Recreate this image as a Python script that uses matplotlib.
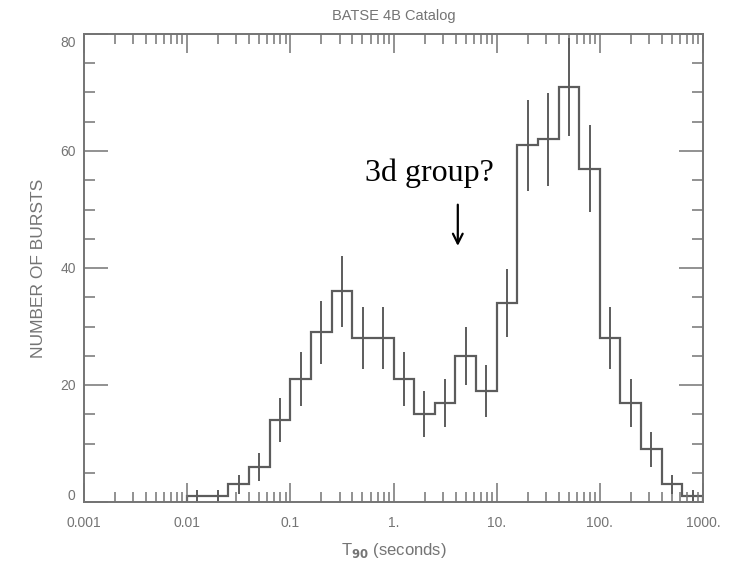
import matplotlib
matplotlib.use('Agg')
import numpy as np
import matplotlib.pyplot as plt
import matplotlib.transforms as mtrans
from matplotlib.ticker import LogLocator, MultipleLocator, NullFormatter

# ---- data ----
bin_edges_log10 = [-2.0, -1.8, -1.6, -1.4, -1.2, -1.0, -0.8, -0.6, -0.4, -0.2,
                   0.0, 0.2, 0.4, 0.6, 0.8, 1.0, 1.2, 1.4, 1.6, 1.8,
                   2.0, 2.2, 2.4, 2.6, 2.8, 3.0]
counts = [1, 1, 3, 6, 14, 21, 29, 36, 28, 28,
          21, 15, 17, 25, 19, 34, 61, 62, 71, 57,
          28, 17, 9, 3, 1]
errors = [1.0, 1.0, 1.7, 2.4, 3.7, 4.6, 5.4, 6.0, 5.3, 5.3,
          4.6, 3.9, 4.1, 5.0, 4.4, 5.8, 7.8, 7.9, 8.4, 7.5,
          5.3, 4.1, 3.0, 1.7, 1.0]
xtick_values = [0.001, 0.01, 0.1, 1, 10, 100, 1000]
xtick_labels = ['0.001', '0.01', '0.1', '1.', '10.', '100.', '1000.']
ytick_values = [0, 20, 40, 60, 80]
ytick_labels = ['0', '20', '40', '60', '80']

edges = 10.0 ** np.array(bin_edges_log10)
centers = np.sqrt(edges[:-1] * edges[1:])

gray = '#747474'
linecol = '#5c5c5c'
plt.rcParams['font.family'] = ['Liberation Sans', 'DejaVu Sans']

fig = plt.figure(figsize=(7.44, 5.65), dpi=100)
ax = fig.add_axes([84 / 744, 1 - 502 / 565, (703 - 84) / 744, (502 - 34) / 565])

ax.stairs(counts, edges, color=linecol, lw=1.6, baseline=0)
ax.errorbar(centers, counts, yerr=errors, fmt='none', ecolor=linecol,
            elinewidth=1.4, capsize=0)

ax.set_xscale('log')
ax.set_xlim(1e-3, 1e3)
ax.set_ylim(0, 80)

ax.set_xticks(xtick_values)
ax.set_xticklabels(xtick_labels)
ax.xaxis.set_minor_locator(LogLocator(base=10, subs=range(2, 10), numticks=20))
ax.xaxis.set_minor_formatter(NullFormatter())
ax.set_yticks(ytick_values)
ax.set_yticklabels(ytick_labels)
ax.yaxis.set_minor_locator(MultipleLocator(5))

for s in ax.spines.values():
    s.set_color(gray)
    s.set_linewidth(1.4)

ax.tick_params(which='both', direction='in', top=True, right=True,
               color=gray, labelcolor=gray, width=1.1, labelsize=10)
ax.tick_params(axis='x', which='major', length=14, pad=10)
ax.tick_params(axis='x', which='minor', length=7)
ax.tick_params(axis='y', which='major', length=17, pad=6)
ax.tick_params(axis='y', which='minor', length=8)

# shift end labels inward like the reference
labs = ax.get_yticklabels()
labs[0].set_transform(labs[0].get_transform() +
                      mtrans.ScaledTranslation(0, 8 / 100, fig.dpi_scale_trans))
labs[-1].set_transform(labs[-1].get_transform() +
                       mtrans.ScaledTranslation(0, -8 / 100, fig.dpi_scale_trans))

ax.set_xlabel('T$_{\\mathbf{90}}$ (seconds)', color=gray, fontsize=12, labelpad=8)
ax.set_ylabel('NUMBER OF BURSTS', color=gray, fontsize=12.5, labelpad=10)

fig.text((84 + 703) / 2 / 744, 1 - 16 / 565, 'BATSE 4B Catalog', ha='center',
         va='center', color=gray, fontsize=10.5)

ax.text(2.25, 54.8, '3d group?', family=['Liberation Serif', 'DejaVu Serif'],
        fontsize=23, color='black', ha='center', va='baseline')
ax.annotate('', xy=(4.2, 43.3), xytext=(4.2, 51.3),
            arrowprops=dict(arrowstyle='->,head_length=0.7,head_width=0.35',
                            color='black', lw=1.6))

fig.savefig('out.png', dpi=100)
